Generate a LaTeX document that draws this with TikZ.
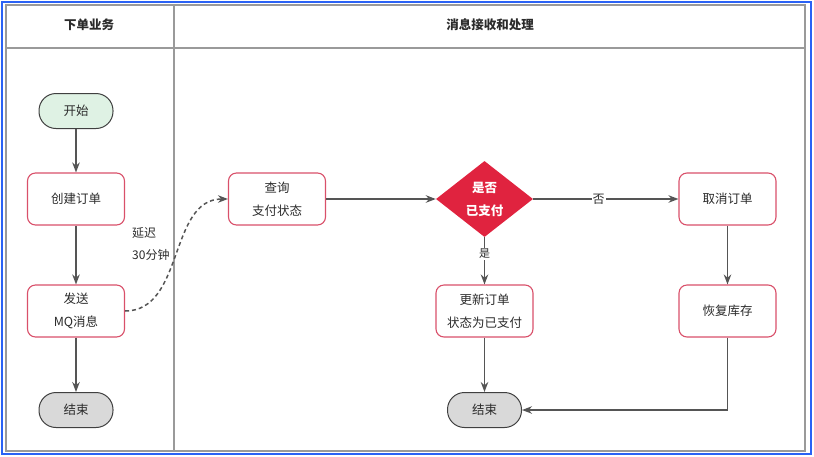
\documentclass[tikz,border=0pt]{standalone}
\usepackage{fontspec}
\setmainfont{Noto Sans CJK SC}
\usetikzlibrary{arrows.meta,shapes.geometric}
\definecolor{frameblue}{HTML}{2A62F5}
\definecolor{lanegray}{HTML}{9A9A9A}
\definecolor{edgegray}{HTML}{555555}
\definecolor{boxred}{HTML}{D9506A}
\definecolor{startgreen}{HTML}{DFF2E4}
\definecolor{endgray}{HTML}{D9D9D9}
\definecolor{decred}{HTML}{E0233F}
\definecolor{inkgray}{HTML}{2B2B2B}
\tikzset{
  base/.style={font=\fontsize{12.5}{23}\selectfont, align=center, inner sep=0pt, text=inkgray},
  procbox/.style={base, draw=boxred, line width=1.1pt, fill=white, rounded corners=8pt,
    minimum width=97pt, minimum height=52pt},
  terminal/.style={base, draw=black!75, line width=1pt, rounded corners=17pt,
    minimum width=74pt, minimum height=35pt},
  decision/.style={base, diamond, aspect=1.28, fill=decred, text=white, font=\fontsize{12.5}{23}\selectfont\bfseries,
    minimum width=97pt, minimum height=76pt, inner sep=0pt},
  flow/.style={draw=edgegray, line width=1.5pt, -{Stealth[length=10pt,width=7.5pt]}},
  lbl/.style={font=\fontsize{12}{14}\selectfont, fill=white, inner sep=1pt, text=inkgray},
  lane/.style={draw=lanegray, line width=1.3pt},
  header/.style={font=\fontsize{12.5}{14}\selectfont\bfseries, text=inkgray}
}
\begin{document}
\begin{tikzpicture}[x=1pt,y=-1pt]
  \useasboundingbox (0,0) rectangle (814,456);
  % outer frame and swimlanes
  \draw[frameblue, line width=2pt] (1.6,1.6) rectangle (811.4,454);
  \draw[lane] (6,5) rectangle (805,451);
  \draw[lane] (6,48) -- (805,48);
  \draw[lane] (174,5) -- (174,451);
  \node[header] (h1) at (89,25) {下单业务};
  \node[header] (h2) at (490,25) {消息接收和处理};

  % order lane
  \node[terminal, fill=startgreen] (start) at (76,111) {开始};
  \node[procbox] (create) at (76,199) {创建订单};
  \node[procbox] (send) at (76,311) {发送\\MQ消息};
  \node[terminal, fill=endgray] (end1) at (76,410) {结束};

  % message lane
  \node[procbox] (query) at (277,199) {查询\\支付状态};
  \node[decision] (paid) at (484.5,199) {是否\\已支付};
  \node[procbox] (update) at (484.5,311) {更新订单\\状态为已支付};
  \node[terminal, fill=endgray] (end2) at (484.5,410) {结束};
  \node[procbox] (cancel) at (727.5,199) {取消订单};
  \node[procbox] (restore) at (727.5,311) {恢复库存};

  % connectors
  \draw[flow] (start) -- (create);
  \draw[flow] (create) -- (send);
  \draw[flow] (send) -- (end1);
  \draw[flow, dashed, dash pattern=on 4pt off 3pt]
    (send.east) to[out=0, in=180, looseness=1.0] (query.west);
  \node[base, align=left, anchor=west, font=\fontsize{12}{22}\selectfont] (delay) at (132,244) {延迟\\30分钟};
  \draw[flow] (query) -- (paid);
  \draw[flow] (paid) -- node[lbl, pos=0.45] (no) {否} (cancel);
  \draw[flow] (paid) -- node[lbl, font=\fontsize{11}{13}\selectfont, pos=0.35] (yes) {是} (update);
  \draw[flow] (update) -- (end2);
  \draw[flow] (cancel) -- (restore);
  \draw[flow] (restore.south) |- (end2.east);
\end{tikzpicture}
\end{document}
